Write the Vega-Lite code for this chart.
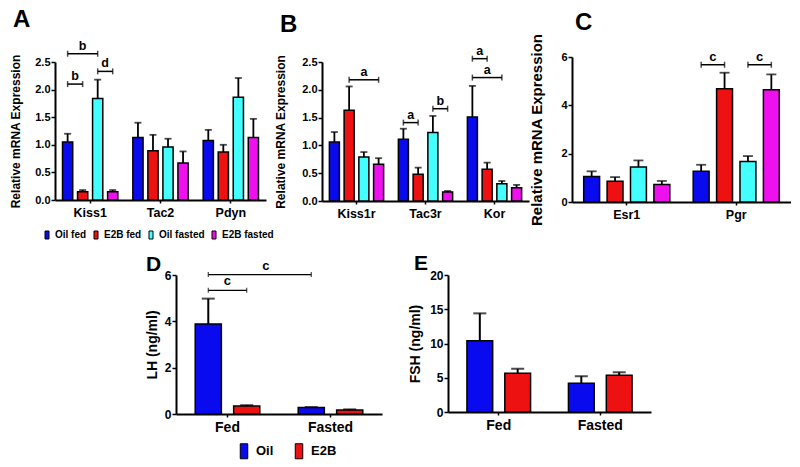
{
  "$schema": "https://vega.github.io/schema/vega-lite/v6.json",
  "padding": {"left": 9, "top": 7, "right": 0, "bottom": 0},
  "spacing": 12,
  "datasets": {
    "bars": [
      {"panel": "A", "cat": "Kiss1", "grp": "Oil fed", "value": 1.05, "upper": 1.20},
      {"panel": "A", "cat": "Kiss1", "grp": "E2B fed", "value": 0.15, "upper": 0.18},
      {"panel": "A", "cat": "Kiss1", "grp": "Oil fasted", "value": 1.84, "upper": 2.18},
      {"panel": "A", "cat": "Kiss1", "grp": "E2B fasted", "value": 0.15, "upper": 0.18},
      {"panel": "A", "cat": "Tac2", "grp": "Oil fed", "value": 1.13, "upper": 1.40},
      {"panel": "A", "cat": "Tac2", "grp": "E2B fed", "value": 0.89, "upper": 1.18},
      {"panel": "A", "cat": "Tac2", "grp": "Oil fasted", "value": 0.96, "upper": 1.11},
      {"panel": "A", "cat": "Tac2", "grp": "E2B fasted", "value": 0.67, "upper": 0.88},
      {"panel": "A", "cat": "Pdyn", "grp": "Oil fed", "value": 1.08, "upper": 1.27},
      {"panel": "A", "cat": "Pdyn", "grp": "E2B fed", "value": 0.87, "upper": 1.00},
      {"panel": "A", "cat": "Pdyn", "grp": "Oil fasted", "value": 1.86, "upper": 2.21},
      {"panel": "A", "cat": "Pdyn", "grp": "E2B fasted", "value": 1.13, "upper": 1.47},
      {"panel": "B", "cat": "Kiss1r", "grp": "Oil fed", "value": 1.06, "upper": 1.24},
      {"panel": "B", "cat": "Kiss1r", "grp": "E2B fed", "value": 1.63, "upper": 2.06},
      {"panel": "B", "cat": "Kiss1r", "grp": "Oil fasted", "value": 0.79, "upper": 0.88},
      {"panel": "B", "cat": "Kiss1r", "grp": "E2B fasted", "value": 0.66, "upper": 0.77},
      {"panel": "B", "cat": "Tac3r", "grp": "Oil fed", "value": 1.11, "upper": 1.30},
      {"panel": "B", "cat": "Tac3r", "grp": "E2B fed", "value": 0.48, "upper": 0.60},
      {"panel": "B", "cat": "Tac3r", "grp": "Oil fasted", "value": 1.23, "upper": 1.53},
      {"panel": "B", "cat": "Tac3r", "grp": "E2B fasted", "value": 0.16, "upper": 0.18},
      {"panel": "B", "cat": "Kor", "grp": "Oil fed", "value": 1.51, "upper": 2.07},
      {"panel": "B", "cat": "Kor", "grp": "E2B fed", "value": 0.57, "upper": 0.69},
      {"panel": "B", "cat": "Kor", "grp": "Oil fasted", "value": 0.31, "upper": 0.36},
      {"panel": "B", "cat": "Kor", "grp": "E2B fasted", "value": 0.24, "upper": 0.29},
      {"panel": "C", "cat": "Esr1", "grp": "Oil fed", "value": 1.06, "upper": 1.27},
      {"panel": "C", "cat": "Esr1", "grp": "E2B fed", "value": 0.86, "upper": 1.03},
      {"panel": "C", "cat": "Esr1", "grp": "Oil fasted", "value": 1.45, "upper": 1.72},
      {"panel": "C", "cat": "Esr1", "grp": "E2B fasted", "value": 0.72, "upper": 0.87},
      {"panel": "C", "cat": "Pgr", "grp": "Oil fed", "value": 1.27, "upper": 1.54},
      {"panel": "C", "cat": "Pgr", "grp": "E2B fed", "value": 4.69, "upper": 5.35},
      {"panel": "C", "cat": "Pgr", "grp": "Oil fasted", "value": 1.68, "upper": 1.90},
      {"panel": "C", "cat": "Pgr", "grp": "E2B fasted", "value": 4.65, "upper": 5.28},
      {"panel": "D", "cat": "Fed", "grp": "Oil", "value": 3.88, "upper": 4.98},
      {"panel": "D", "cat": "Fed", "grp": "E2B", "value": 0.34, "upper": 0.38},
      {"panel": "D", "cat": "Fasted", "grp": "Oil", "value": 0.28, "upper": 0.30},
      {"panel": "D", "cat": "Fasted", "grp": "E2B", "value": 0.17, "upper": 0.20},
      {"panel": "E", "cat": "Fed", "grp": "Oil", "value": 10.4, "upper": 14.4},
      {"panel": "E", "cat": "Fed", "grp": "E2B", "value": 5.66, "upper": 6.3},
      {"panel": "E", "cat": "Fasted", "grp": "Oil", "value": 4.2, "upper": 5.22},
      {"panel": "E", "cat": "Fasted", "grp": "E2B", "value": 5.37, "upper": 5.8}
    ],
    "brk": [
      {"panel": "A", "id": "A1", "label": "b", "value": 2.10, "cats": ["Kiss1", "Kiss1"], "grps": ["Oil fed", "E2B fed"], "cat": "Kiss1", "grp": "Oil fed", "span": 1},
      {"panel": "A", "id": "A2", "label": "b", "value": 2.65, "cats": ["Kiss1", "Kiss1"], "grps": ["Oil fed", "Oil fasted"], "cat": "Kiss1", "grp": "E2B fed", "span": 2},
      {"panel": "A", "id": "A3", "label": "d", "value": 2.33, "cats": ["Kiss1", "Kiss1"], "grps": ["Oil fasted", "E2B fasted"], "cat": "Kiss1", "grp": "Oil fasted", "span": 1},
      {"panel": "B", "id": "B1", "label": "a", "value": 2.18, "cats": ["Kiss1r", "Kiss1r"], "grps": ["E2B fed", "E2B fasted"], "cat": "Kiss1r", "grp": "Oil fasted", "span": 2},
      {"panel": "B", "id": "B2", "label": "a", "value": 1.41, "cats": ["Tac3r", "Tac3r"], "grps": ["Oil fed", "E2B fed"], "cat": "Tac3r", "grp": "Oil fed", "span": 1},
      {"panel": "B", "id": "B3", "label": "b", "value": 1.66, "cats": ["Tac3r", "Tac3r"], "grps": ["Oil fasted", "E2B fasted"], "cat": "Tac3r", "grp": "Oil fasted", "span": 1},
      {"panel": "B", "id": "B4", "label": "a", "value": 2.56, "cats": ["Kor", "Kor"], "grps": ["Oil fed", "E2B fed"], "cat": "Kor", "grp": "Oil fed", "span": 1},
      {"panel": "B", "id": "B5", "label": "a", "value": 2.22, "cats": ["Kor", "Kor"], "grps": ["Oil fed", "Oil fasted"], "cat": "Kor", "grp": "E2B fed", "span": 2},
      {"panel": "C", "id": "C1", "label": "c", "value": 5.68, "cats": ["Pgr", "Pgr"], "grps": ["Oil fed", "E2B fed"], "cat": "Pgr", "grp": "Oil fed", "span": 1},
      {"panel": "C", "id": "C2", "label": "c", "value": 5.68, "cats": ["Pgr", "Pgr"], "grps": ["Oil fasted", "E2B fasted"], "cat": "Pgr", "grp": "Oil fasted", "span": 1},
      {"panel": "D", "id": "D1", "label": "c", "value": 5.34, "cats": ["Fed", "Fed"], "grps": ["Oil", "E2B"], "cat": "Fed", "grp": "Oil", "span": 1},
      {"panel": "D", "id": "D2", "label": "c", "value": 6.02, "cats": ["Fed", "Fasted"], "grps": ["Oil", "Oil"], "cat": "Fed", "grp": "E2B", "span": 1}
    ]
  },
  "resolve": {"scale": {"color": "independent", "xOffset": "independent"}},
  "vconcat": [
    {
      "spacing": 0,
      "resolve": {"scale": {"color": "independent", "xOffset": "independent"}},
      "hconcat": [
        {
          "width": 211, "height": 138,
          "title": {"text": "A", "anchor": "start", "frame": "group", "dx": -42, "fontSize": 24, "offset": 8},
          "encoding": {
            "x": {"field": "cat", "type": "nominal", "title": null, "scale": {"type": "band", "domain": ["Kiss1", "Tac2", "Pdyn"], "paddingInner": 0, "paddingOuter": 0}, "axis": {"labelFontSize": 12.5}},
            "xOffset": {"field": "grp", "type": "nominal", "scale": {"type": "band", "domain": ["Oil fed", "E2B fed", "Oil fasted", "E2B fasted"], "paddingInner": 0.32, "paddingOuter": 0.5}},
            "y": {"field": "value", "type": "quantitative", "title": "Relative mRNA Expression", "scale": {"domain": [0, 2.5], "nice": false}, "axis": {"values": [0, 0.5, 1, 1.5, 2, 2.5], "format": ".1f", "titleFontSize": 12, "titlePadding": 12}}
          },
          "layer": [
            {
              "data": {"name": "bars"},
              "transform": [{"filter": "datum.panel === 'A'"}],
              "mark": {"type": "bar", "stroke": "black", "strokeWidth": 1.5},
              "encoding": {
                "color": {"field": "grp", "type": "nominal", "scale": {"domain": ["Oil fed", "E2B fed", "Oil fasted", "E2B fasted"], "range": ["#0a0aef", "#ee1111", "#44ffff", "#ee11ee"]},
                  "legend": {"orient": "none", "legendX": -13, "legendY": 168, "direction": "horizontal", "title": null, "symbolType": "M-0.5,-1H0.5V1H-0.5Z", "symbolSize": 64, "symbolStrokeColor": "black", "symbolStrokeWidth": 1, "labelFontSize": 10, "labelOffset": 3, "columnPadding": 4}}
              }
            },
            {
              "data": {"name": "bars"},
              "transform": [{"filter": "datum.panel === 'A'"}],
              "mark": {"type": "rule", "color": "black", "strokeWidth": 1.8},
              "encoding": {"y2": {"field": "upper"}}
            },
            {
              "data": {"name": "bars"},
              "transform": [{"filter": "datum.panel === 'A'"}, {"fold": ["upper"], "as": ["k", "value"]}],
              "mark": {"type": "tick", "color": "black", "thickness": 1.8, "size": 7},
              "encoding": {}
            },
            {
              "data": {"name": "brk"},
              "transform": [{"filter": "datum.panel === 'A'"}, {"flatten": ["cats", "grps"], "as": ["cat", "grp"]}],
              "mark": {"type": "line", "color": "black", "strokeWidth": 1.5, "clip": false},
              "encoding": {"detail": {"field": "id"}}
            },
            {
              "data": {"name": "brk"},
              "transform": [{"filter": "datum.panel === 'A'"}, {"flatten": ["cats", "grps"], "as": ["cat", "grp"]}],
              "mark": {"type": "tick", "orient": "vertical", "color": "black", "thickness": 1.5, "size": 6, "clip": false},
              "encoding": {}
            },
            {
              "data": {"name": "brk"},
              "transform": [{"filter": "datum.panel === 'A' && datum.span === 2"}],
              "mark": {"type": "text", "fontSize": 12.5, "fontWeight": "bold", "baseline": "bottom", "dy": -1, "clip": false},
              "encoding": {"text": {"field": "label"}}
            },
            {
              "data": {"name": "brk"},
              "transform": [{"filter": "datum.panel === 'A' && datum.span === 1"}],
              "mark": {"type": "text", "fontSize": 12.5, "fontWeight": "bold", "baseline": "bottom", "dy": -1, "dx": 7.5, "clip": false},
              "encoding": {"text": {"field": "label"}}
            }
          ]
        },
        {
          "width": 207, "height": 139,
          "title": {"text": "B", "anchor": "start", "frame": "group", "dx": -42, "fontSize": 24, "offset": 8},
          "encoding": {
            "x": {"field": "cat", "type": "nominal", "title": null, "scale": {"type": "band", "domain": ["Kiss1r", "Tac3r", "Kor"], "paddingInner": 0, "paddingOuter": 0}, "axis": {"labelFontSize": 12.5}},
            "xOffset": {"field": "grp", "type": "nominal", "scale": {"type": "band", "domain": ["Oil fed", "E2B fed", "Oil fasted", "E2B fasted"], "paddingInner": 0.32, "paddingOuter": 0.5}},
            "y": {"field": "value", "type": "quantitative", "title": "Relative mRNA Expression", "scale": {"domain": [0, 2.5], "nice": false}, "axis": {"values": [0, 0.5, 1, 1.5, 2, 2.5], "format": ".1f", "titleFontSize": 12, "titlePadding": 14}}
          },
          "layer": [
            {
              "data": {"name": "bars"},
              "transform": [{"filter": "datum.panel === 'B'"}],
              "mark": {"type": "bar", "stroke": "black", "strokeWidth": 1.5},
              "encoding": {
                "color": {"field": "grp", "type": "nominal", "scale": {"domain": ["Oil fed", "E2B fed", "Oil fasted", "E2B fasted"], "range": ["#0a0aef", "#ee1111", "#44ffff", "#ee11ee"]}, "legend": null}
              }
            },
            {
              "data": {"name": "bars"},
              "transform": [{"filter": "datum.panel === 'B'"}],
              "mark": {"type": "rule", "color": "black", "strokeWidth": 1.8},
              "encoding": {"y2": {"field": "upper"}}
            },
            {
              "data": {"name": "bars"},
              "transform": [{"filter": "datum.panel === 'B'"}, {"fold": ["upper"], "as": ["k", "value"]}],
              "mark": {"type": "tick", "color": "black", "thickness": 1.8, "size": 7},
              "encoding": {}
            },
            {
              "data": {"name": "brk"},
              "transform": [{"filter": "datum.panel === 'B'"}, {"flatten": ["cats", "grps"], "as": ["cat", "grp"]}],
              "mark": {"type": "line", "color": "black", "strokeWidth": 1.5, "clip": false},
              "encoding": {"detail": {"field": "id"}}
            },
            {
              "data": {"name": "brk"},
              "transform": [{"filter": "datum.panel === 'B'"}, {"flatten": ["cats", "grps"], "as": ["cat", "grp"]}],
              "mark": {"type": "tick", "orient": "vertical", "color": "black", "thickness": 1.5, "size": 6, "clip": false},
              "encoding": {}
            },
            {
              "data": {"name": "brk"},
              "transform": [{"filter": "datum.panel === 'B' && datum.span === 2"}],
              "mark": {"type": "text", "fontSize": 12.5, "fontWeight": "bold", "baseline": "bottom", "dy": -1, "clip": false},
              "encoding": {"text": {"field": "label"}}
            },
            {
              "data": {"name": "brk"},
              "transform": [{"filter": "datum.panel === 'B' && datum.span === 1"}],
              "mark": {"type": "text", "fontSize": 12.5, "fontWeight": "bold", "baseline": "bottom", "dy": -1, "dx": 7.4, "clip": false},
              "encoding": {"text": {"field": "label"}}
            }
          ]
        },
        {
          "width": 219, "height": 140,
          "title": {"text": "C", "anchor": "start", "frame": "group", "dx": 3, "fontSize": 24, "offset": -2},
          "encoding": {
            "x": {"field": "cat", "type": "nominal", "title": null, "scale": {"type": "band", "domain": ["Esr1", "Pgr"], "paddingInner": 0, "paddingOuter": 0}, "axis": {"labelFontSize": 12.5}},
            "xOffset": {"field": "grp", "type": "nominal", "scale": {"type": "band", "domain": ["Oil fed", "E2B fed", "Oil fasted", "E2B fasted"], "paddingInner": 0.32, "paddingOuter": 0.5}},
            "y": {"field": "value", "type": "quantitative", "title": "Relative mRNA Expression", "scale": {"domain": [0, 6], "nice": false, "range": [140, -5]}, "axis": {"values": [0, 2, 4, 6], "titleFontSize": 15, "titlePadding": 16}}
          },
          "layer": [
            {
              "data": {"name": "bars"},
              "transform": [{"filter": "datum.panel === 'C'"}],
              "mark": {"type": "bar", "stroke": "black", "strokeWidth": 1.5},
              "encoding": {
                "color": {"field": "grp", "type": "nominal", "scale": {"domain": ["Oil fed", "E2B fed", "Oil fasted", "E2B fasted"], "range": ["#0a0aef", "#ee1111", "#44ffff", "#ee11ee"]}, "legend": null}
              }
            },
            {
              "data": {"name": "bars"},
              "transform": [{"filter": "datum.panel === 'C'"}],
              "mark": {"type": "rule", "color": "black", "strokeWidth": 1.8},
              "encoding": {"y2": {"field": "upper"}}
            },
            {
              "data": {"name": "bars"},
              "transform": [{"filter": "datum.panel === 'C'"}, {"fold": ["upper"], "as": ["k", "value"]}],
              "mark": {"type": "tick", "color": "black", "thickness": 1.8, "size": 10},
              "encoding": {}
            },
            {
              "data": {"name": "brk"},
              "transform": [{"filter": "datum.panel === 'C'"}, {"flatten": ["cats", "grps"], "as": ["cat", "grp"]}],
              "mark": {"type": "line", "color": "black", "strokeWidth": 1.5, "clip": false},
              "encoding": {"detail": {"field": "id"}}
            },
            {
              "data": {"name": "brk"},
              "transform": [{"filter": "datum.panel === 'C'"}, {"flatten": ["cats", "grps"], "as": ["cat", "grp"]}],
              "mark": {"type": "tick", "orient": "vertical", "color": "black", "thickness": 1.5, "size": 6, "clip": false},
              "encoding": {}
            },
            {
              "data": {"name": "brk"},
              "transform": [{"filter": "datum.panel === 'C'"}],
              "mark": {"type": "text", "fontSize": 13, "fontWeight": "bold", "baseline": "bottom", "dy": -1, "dx": 11.7, "clip": false},
              "encoding": {"text": {"field": "label"}}
            }
          ]
        }
      ]
    },
    {
      "spacing": 26,
      "resolve": {"scale": {"color": "independent", "xOffset": "independent"}},
      "hconcat": [
        {
          "width": 64, "height": 10,
          "data": {"values": [{"k": ""}]},
          "mark": {"type": "text", "opacity": 0},
          "encoding": {"text": {"field": "k"}}
        },
        {
          "width": 206, "height": 139,
          "title": {"text": "D", "anchor": "start", "frame": "group", "dx": -30, "fontSize": 21, "offset": -15},
          "encoding": {
            "x": {"field": "cat", "type": "nominal", "title": null, "scale": {"type": "band", "domain": ["Fed", "Fasted"], "paddingInner": 0, "paddingOuter": 0}, "axis": {"labelFontSize": 14}},
            "xOffset": {"field": "grp", "type": "nominal", "scale": {"type": "band", "domain": ["Oil", "E2B"], "paddingInner": 0.32, "paddingOuter": 0.5}},
            "y": {"field": "value", "type": "quantitative", "title": "LH (ng/ml)", "scale": {"domain": [0, 6], "nice": false}, "axis": {"values": [0, 2, 4, 6], "titleFontSize": 14, "titlePadding": 5, "labelFontSize": 12}}
          },
          "layer": [
            {
              "data": {"name": "bars"},
              "transform": [{"filter": "datum.panel === 'D'"}],
              "mark": {"type": "bar", "stroke": "black", "strokeWidth": 1.5},
              "encoding": {
                "color": {"field": "grp", "type": "nominal", "scale": {"domain": ["Oil", "E2B"], "range": ["#0a0aef", "#ee1111"]},
                  "legend": {"orient": "none", "legendX": 60, "legendY": 168, "direction": "horizontal", "title": null, "symbolType": "M-0.5,-1H0.5V1H-0.5Z", "symbolSize": 225, "symbolStrokeColor": "black", "symbolStrokeWidth": 1, "labelFontSize": 13, "labelOffset": 4, "columnPadding": 17}}
              }
            },
            {
              "data": {"name": "bars"},
              "transform": [{"filter": "datum.panel === 'D'"}],
              "mark": {"type": "rule", "color": "black", "strokeWidth": 2},
              "encoding": {"y2": {"field": "upper"}}
            },
            {
              "data": {"name": "bars"},
              "transform": [{"filter": "datum.panel === 'D'"}, {"fold": ["upper"], "as": ["k", "value"]}],
              "mark": {"type": "tick", "color": "black", "thickness": 2, "size": 13},
              "encoding": {}
            },
            {
              "data": {"name": "brk"},
              "transform": [{"filter": "datum.panel === 'D'"}, {"flatten": ["cats", "grps"], "as": ["cat", "grp"]}],
              "mark": {"type": "line", "color": "black", "strokeWidth": 1.2, "clip": false},
              "encoding": {"detail": {"field": "id"}}
            },
            {
              "data": {"name": "brk"},
              "transform": [{"filter": "datum.panel === 'D'"}, {"flatten": ["cats", "grps"], "as": ["cat", "grp"]}],
              "mark": {"type": "tick", "orient": "vertical", "color": "black", "thickness": 1.2, "size": 5, "clip": false},
              "encoding": {}
            },
            {
              "data": {"name": "brk"},
              "transform": [{"filter": "datum.panel === 'D'"}],
              "mark": {"type": "text", "fontSize": 13, "fontWeight": "bold", "baseline": "bottom", "dy": -2, "dx": 19.2, "clip": false},
              "encoding": {"text": {"field": "label"}}
            }
          ]
        },
        {
          "width": 203, "height": 137,
          "title": {"text": "E", "anchor": "start", "frame": "group", "dx": -34, "fontSize": 21, "offset": -5},
          "encoding": {
            "x": {"field": "cat", "type": "nominal", "title": null, "scale": {"type": "band", "domain": ["Fed", "Fasted"], "paddingInner": 0, "paddingOuter": 0}, "axis": {"labelFontSize": 14}},
            "xOffset": {"field": "grp", "type": "nominal", "scale": {"type": "band", "domain": ["Oil", "E2B"], "paddingInner": 0.32, "paddingOuter": 0.5}},
            "y": {"field": "value", "type": "quantitative", "title": "FSH (ng/ml)", "scale": {"domain": [0, 20], "nice": false}, "axis": {"values": [0, 5, 10, 15, 20], "titleFontSize": 14, "titlePadding": 7, "labelFontSize": 12}}
          },
          "layer": [
            {
              "data": {"name": "bars"},
              "transform": [{"filter": "datum.panel === 'E'"}],
              "mark": {"type": "bar", "stroke": "black", "strokeWidth": 1.5},
              "encoding": {
                "color": {"field": "grp", "type": "nominal", "scale": {"domain": ["Oil", "E2B"], "range": ["#0a0aef", "#ee1111"]}, "legend": null}
              }
            },
            {
              "data": {"name": "bars"},
              "transform": [{"filter": "datum.panel === 'E'"}],
              "mark": {"type": "rule", "color": "black", "strokeWidth": 2},
              "encoding": {"y2": {"field": "upper"}}
            },
            {
              "data": {"name": "bars"},
              "transform": [{"filter": "datum.panel === 'E'"}, {"fold": ["upper"], "as": ["k", "value"]}],
              "mark": {"type": "tick", "color": "black", "thickness": 2, "size": 13},
              "encoding": {}
            }
          ]
        }
      ]
    }
  ],
  "config": {
    "font": "Liberation Sans",
    "view": {"stroke": null},
    "axis": {"domainColor": "#000", "domainWidth": 2, "tickColor": "#000", "tickWidth": 1.5, "labelColor": "#000", "titleColor": "#000", "labelFontWeight": "bold", "titleFontWeight": "bold", "grid": false, "labelFont": "Liberation Sans", "titleFont": "Liberation Sans"},
    "axisX": {"labelAngle": 0, "tickSize": 3, "labelPadding": 3, "labelFontSize": 12.5},
    "axisY": {"tickSize": 4, "labelPadding": 1, "labelFontSize": 11},
    "legend": {"labelFont": "Liberation Sans", "labelFontWeight": "bold", "labelColor": "#000"},
    "title": {"font": "Liberation Sans", "fontWeight": "bold", "color": "#000"},
    "text": {"font": "Liberation Sans", "color": "#000"}
  }
}
